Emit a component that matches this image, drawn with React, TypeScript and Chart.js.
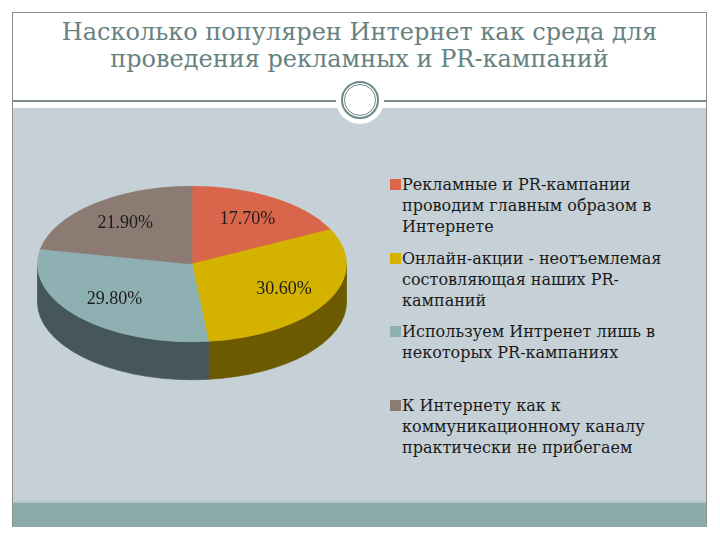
import React, { useEffect, useRef } from 'react';
import { Chart, registerables } from 'chart.js';

Chart.register(...registerables);

const titleLines = ['Насколько популярен Интернет как среда для', 'проведения рекламных и PR-кампаний'];
const labels = [
  'Рекламные и PR-кампании проводим главным образом в Интернете',
  'Онлайн-акции - неотъемлемая состовляющая наших PR-кампаний',
  'Используем Интренет лишь в некоторых PR-кампаниях',
  'К Интернету как к коммуникационному каналу практически не прибегаем',
];
const values = [17.7, 30.6, 29.8, 21.9];
const topColors = ['#d9664a', '#d4b200', '#8fb0b2', '#8c7b72'];
const sideColors = ['#8a3f2d', '#6b5a00', '#455758', '#5a4d46'];

const TILT = 0.503;
const DEPTH = 38;
const SERIF = '"Liberation Serif", "DejaVu Serif", serif';
const WIDE_SERIF = '"DejaVu Serif", "Liberation Serif", serif';

const pie3d = {
  id: 'pie3d',
  beforeDatasetsDraw(chart: any) {
    const ctx = chart.ctx;
    const arcs = chart.getDatasetMeta(0).data;
    if (!arcs.length) return;
    const { x, y, outerRadius: r } = arcs[0].getProps(['x', 'y', 'outerRadius'], true);
    ctx.save();
    ctx.translate(x, y);
    ctx.scale(1, TILT);
    ctx.translate(-x, -y);
    const d = DEPTH / TILT;
    arcs.forEach((arc: any, i: number) => {
      const { startAngle, endAngle } = arc.getProps(['startAngle', 'endAngle'], true);
      const a = Math.max(startAngle, 0);
      const b = Math.min(endAngle, Math.PI);
      if (b > a) {
        ctx.beginPath();
        ctx.arc(x, y, r, a, b);
        ctx.lineTo(x + r * Math.cos(b), y + d + r * Math.sin(b));
        ctx.arc(x, y + d, r, b, a, true);
        ctx.closePath();
        ctx.fillStyle = sideColors[i];
        ctx.fill();
        ctx.strokeStyle = sideColors[i];
        ctx.lineWidth = 1;
        ctx.stroke();
      }
    });
  },
  afterDatasetsDraw(chart: any) {
    const ctx = chart.ctx;
    ctx.restore();
    const arcs = chart.getDatasetMeta(0).data;
    ctx.save();
    ctx.font = `18px ${SERIF}`;
    ctx.fillStyle = '#1c1c1c';
    ctx.textAlign = 'center';
    ctx.textBaseline = 'middle';
    arcs.forEach((arc: any, i: number) => {
      const { x, y, outerRadius: r, startAngle, endAngle } = arc.getProps(
        ['x', 'y', 'outerRadius', 'startAngle', 'endAngle'],
        true
      );
      const m = (startAngle + endAngle) / 2;
      const px = x + 0.68 * r * Math.cos(m);
      const py = y + 0.68 * r * Math.sin(m) * TILT;
      ctx.fillText(values[i].toFixed(2) + '%', px, py);
    });
    ctx.restore();
  },
};

function PieChart() {
  const ref = useRef<HTMLCanvasElement>(null);
  useEffect(() => {
    if (!ref.current) return;
    const chart = new Chart(ref.current, {
      type: 'pie',
      data: {
        labels,
        datasets: [
          {
            data: values,
            backgroundColor: topColors,
            borderColor: topColors,
            borderWidth: 1,
            clip: false,
          } as any,
        ],
      },
      options: {
        animation: false,
        responsive: false,
        layout: { padding: { left: 25, right: 25, top: 0, bottom: 80 } },
        plugins: { legend: { display: false }, tooltip: { enabled: false } },
      },
      plugins: [pie3d],
    });
    return () => chart.destroy();
  }, []);
  return (
    <canvas
      ref={ref}
      width={360}
      height={390}
      style={{ position: 'absolute', left: 12, top: 109, width: 360, height: 390 }}
    />
  );
}

export default function App() {
  return (
    <div
      style={{
        position: 'fixed',
        left: 0,
        top: 0,
        width: 720,
        height: 540,
        background: '#ffffff',
        overflow: 'hidden',
        fontFamily: SERIF,
      }}
    >
      {/* gray content area */}
      <div style={{ position: 'absolute', left: 12, top: 108, width: 695, height: 394, background: '#c6d1d7' }} />
      {/* bottom band */}
      <div style={{ position: 'absolute', left: 12, top: 501, width: 695, height: 2, background: '#b4c8c8' }} />
      <div style={{ position: 'absolute', left: 12, top: 503, width: 695, height: 24, background: '#8aabaa' }} />
      {/* frame */}
      <div
        style={{
          position: 'absolute',
          left: 12,
          top: 12,
          width: 695,
          height: 515,
          border: '1px solid #8c8c8c',
          boxSizing: 'border-box',
          borderBottom: 'none',
        }}
      />
      {/* header rule */}
      <div style={{ position: 'absolute', left: 12, top: 100, width: 695, height: 2, background: '#7f8b8b' }} />
      {/* ornament */}
      <div
        style={{
          position: 'absolute',
          left: 360 - 24,
          top: 100 - 24,
          width: 48,
          height: 48,
          borderRadius: '50%',
          background: '#ffffff',
        }}
      />
      <div
        style={{
          position: 'absolute',
          left: 360 - 19,
          top: 100 - 19,
          width: 38,
          height: 38,
          borderRadius: '50%',
          border: '2px solid #6c8887',
          boxSizing: 'border-box',
        }}
      />
      <div
        style={{
          position: 'absolute',
          left: 360 - 16,
          top: 100 - 16,
          width: 32,
          height: 32,
          borderRadius: '50%',
          border: '1.5px solid #6c8887',
          boxSizing: 'border-box',
        }}
      />
      {/* title */}
      <div
        style={{
          position: 'absolute',
          left: 12,
          top: 19,
          width: 695,
          textAlign: 'center',
          fontFamily: WIDE_SERIF,
          fontSize: 24,
          lineHeight: '27px',
          color: '#668280',
          whiteSpace: 'nowrap',
        }}
      >
        {titleLines.map((t, i) => (
          <div key={i}>{t}</div>
        ))}
      </div>
      <PieChart />
      {/* legend */}
      {labels.map((l, i) => (
        <div
          key={i}
          style={{
            position: 'absolute',
            left: 390,
            top: 174 + i * 73.5,
            width: 290,
            display: 'flex',
            alignItems: 'flex-start',
          }}
        >
          <div style={{ width: 11, height: 11, marginTop: 5, background: topColors[i], flex: 'none' }} />
          <div
            style={{
              fontFamily: WIDE_SERIF,
              fontSize: 16,
              lineHeight: '21px',
              color: '#1a1a1a',
              width: 268,
              paddingLeft: 1,
            }}
          >
            {l}
          </div>
        </div>
      ))}
    </div>
  );
}
